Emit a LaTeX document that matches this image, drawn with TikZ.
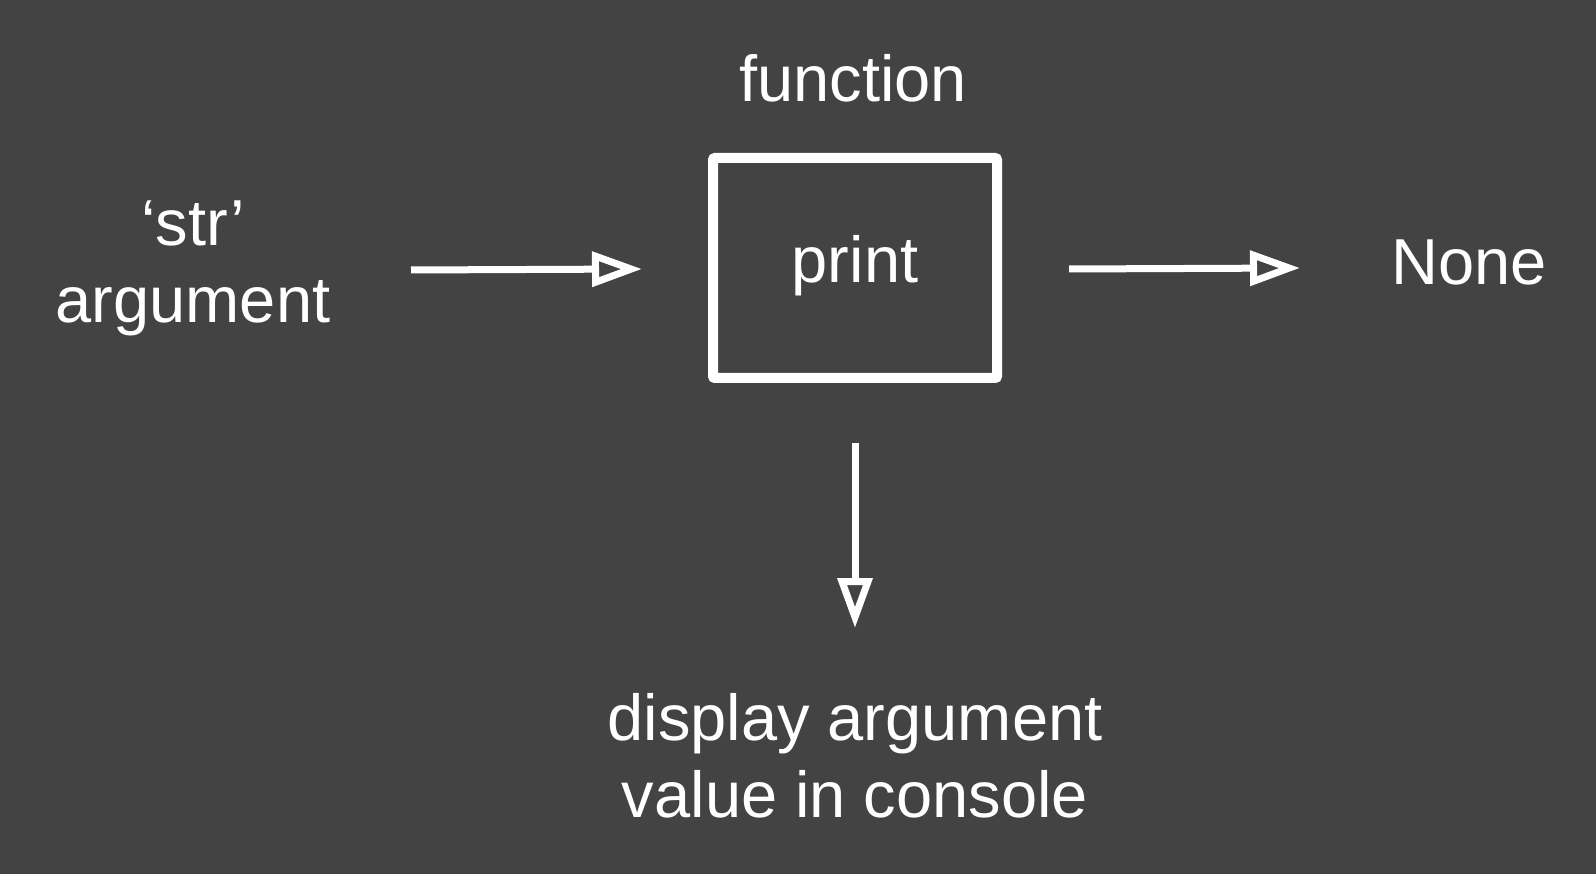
\documentclass[tikz,border=0pt]{standalone}
\usepackage{fontspec}
\setmainfont{Liberation Sans}
\usetikzlibrary{arrows.meta}
\definecolor{bg}{HTML}{434343}
\begin{document}
\begin{tikzpicture}[x=1pt,y=-1pt,
  lbl/.style={text=white,font=\fontsize{65}{77}\selectfont,inner sep=0pt,align=center},
  conn/.style={draw=white,line width=7pt,-{Triangle[open,length=50pt,width=34pt]}},
  box/.style={draw=white,line width=10pt,rounded corners=2pt}]
\fill[bg] (0,0) rectangle (1596,874);
\useasboundingbox (0,0) rectangle (1596,874);
\draw[box] (713,158) rectangle (997,378);
\node[lbl,anchor=base] (print) at (855,283) {print};
\node[lbl,anchor=base] (func) at (853,102) {function};
\node[lbl,anchor=base] (arg) at (193,323) {‘str’\\argument};
\node[lbl,anchor=base] (none) at (1469,285) {None};
\node[lbl,anchor=base] (disp) at (855,817) {display argument\\value in console};
\coordinate (a1) at (411,270);
\coordinate (a2) at (642,269);
\coordinate (b1) at (1069,269);
\coordinate (b2) at (1300,268);
\coordinate (c1) at (855,443);
\coordinate (c2) at (855,628);
\draw[conn] (a1) -- (a2);
\draw[conn] (b1) -- (b2);
\draw[conn] (c1) -- (c2);
\end{tikzpicture}
\end{document}
